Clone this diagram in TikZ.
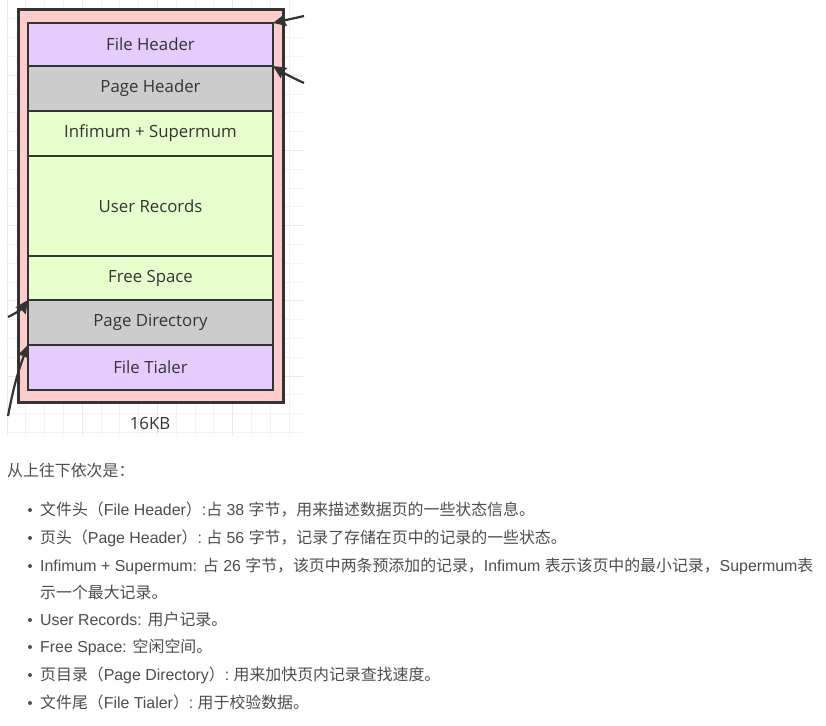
\documentclass[tikz,border=0pt]{standalone}
\usepackage{fontspec}
\setmainfont{Liberation Sans}
\newfontfamily\zhfont{Noto Sans CJK SC}
\newfontfamily\lblfont{Open Sans}
\usetikzlibrary{arrows.meta}
\definecolor{pagebg}{HTML}{FFCCCC}
\definecolor{purplebg}{HTML}{E5CCFF}
\definecolor{graybg}{HTML}{CCCCCC}
\definecolor{greenbg}{HTML}{E6FFCC}
\definecolor{linec}{HTML}{333333}
\definecolor{gridminor}{HTML}{F2F2F2}
\definecolor{gridmajor}{HTML}{E8E8E8}
\definecolor{textc}{HTML}{4D4D4D}
\newcommand{\Z}[1]{{\zhfont #1}}
\begin{document}
\begin{tikzpicture}[x=1pt,y=-1pt,
  pagebox/.style={draw=linec, fill=pagebg, line width=3pt, minimum width=265pt, minimum height=392pt, inner sep=0pt, outer sep=0pt, anchor=north west},
  seg/.style={draw=linec, line width=2.5pt, minimum width=245pt, inner sep=0pt, outer sep=0pt, anchor=north west, text=linec, font=\lblfont\fontsize{16.8}{19}\selectfont},
  arr/.style={draw=linec, line width=2.2pt, -{Stealth[length=13pt,width=12pt,inset=1.5pt]}},
  listtxt/.style={anchor=base west, inner sep=0pt, text=textc, font=\fontsize{15.9}{18}\selectfont},
  dotb/.style={circle, fill=textc, inner sep=0pt, minimum size=4pt}
]
\useasboundingbox (0,0) rectangle (826,725);
\fill[white] (0,0) rectangle (826,725);
% grid
\foreach \i in {0,...,15}{
  \pgfmathtruncatemacro{\m}{mod(\i,4)}
  \ifnum\m=0 \def\gc{gridmajor}\else\def\gc{gridminor}\fi
  \draw[\gc, line width=1pt] ({7+18.8*\i},0) -- ({7+18.8*\i},436);
}
\foreach \j in {0,...,23}{
  \pgfmathtruncatemacro{\m}{mod(\j,4)}
  \ifnum\m=0 \def\gc{gridmajor}\else\def\gc{gridminor}\fi
  \draw[\gc, line width=1pt] (7,{18.8*\j}) -- (303,{18.8*\j});
}
% page
\node[pagebox] (page) at (18,10) {};
\node[seg, fill=purplebg, minimum height=43pt] (fh) at (28,23) {File Header};
\node[seg, fill=graybg, minimum height=45pt] (ph) at (28,66) {Page Header};
\node[seg, fill=greenbg, minimum height=45pt] (is) at (28,111) {Infimum + Supermum};
\node[seg, fill=greenbg, minimum height=100pt] (ur) at (28,156) {User Records};
\node[seg, fill=greenbg, minimum height=44pt] (fs) at (28,256) {Free Space};
\node[seg, fill=graybg, minimum height=45pt] (pd) at (28,300) {Page Directory};
\node[seg, fill=purplebg, minimum height=45pt] (ft) at (28,345) {File Tialer};
\node[text=linec, font=\lblfont\fontsize{16.8}{19}\selectfont, inner sep=0pt] (kb) at (150,423) {16KB};
% arrows
\coordinate (a1) at (304,16);
\coordinate (a2) at (304,83);
\coordinate (a3) at (8,317);
\coordinate (a4) at (8,416);
\draw[arr] (a1) -- (fh.north east);
\draw[arr] (a2) to[bend left=4] (fh.south east);
\draw[arr] (a3) to[bend right=15] (pd.north west);
\draw[arr] (a4) to[bend left=5] (pd.south west);
% text
\node[listtxt] (t0) at (7,476) {\Z{从上往下依次是：}};
\node[dotb] (b1) at (30,510) {};
\node[listtxt] (t1) at (40,515.5) {\Z{文件头（}File Header\Z{）}:\Z{占} 38 \Z{字节，用来描述数据页的一些状态信息。}};
\node[dotb] (b2) at (30,538) {};
\node[listtxt] (t2) at (40,543.5) {\Z{页头（}Page Header\Z{）}:\ \Z{占} 56 \Z{字节，记录了存储在页中的记录的一些状态。}};
\node[dotb] (b3) at (30,566) {};
\node[listtxt] (t3) at (40,571.5) {Infimum + Supermum: \Z{占} 26 \Z{字节，该页中两条预添加的记录，}Infimum \Z{表示该页中的最小记录，}Supermum\Z{表}};
\node[listtxt] (t3b) at (40,598.5) {\Z{示一个最大记录。}};
\node[dotb] (b4) at (30,620) {};
\node[listtxt] (t4) at (40,625.5) {User Records: \Z{用户记录。}};
\node[dotb] (b5) at (30,647) {};
\node[listtxt] (t5) at (40,652.5) {Free Space: \Z{空闲空间。}};
\node[dotb] (b6) at (30,675) {};
\node[listtxt] (t6) at (40,680.5) {\Z{页目录（}Page Directory\Z{）}:\ \Z{用来加快页内记录查找速度。}};
\node[dotb] (b7) at (30,703) {};
\node[listtxt] (t7) at (40,708.5) {\Z{文件尾（}File Tialer\Z{）}:\ \Z{用于校验数据。}};
\end{tikzpicture}
\end{document}
